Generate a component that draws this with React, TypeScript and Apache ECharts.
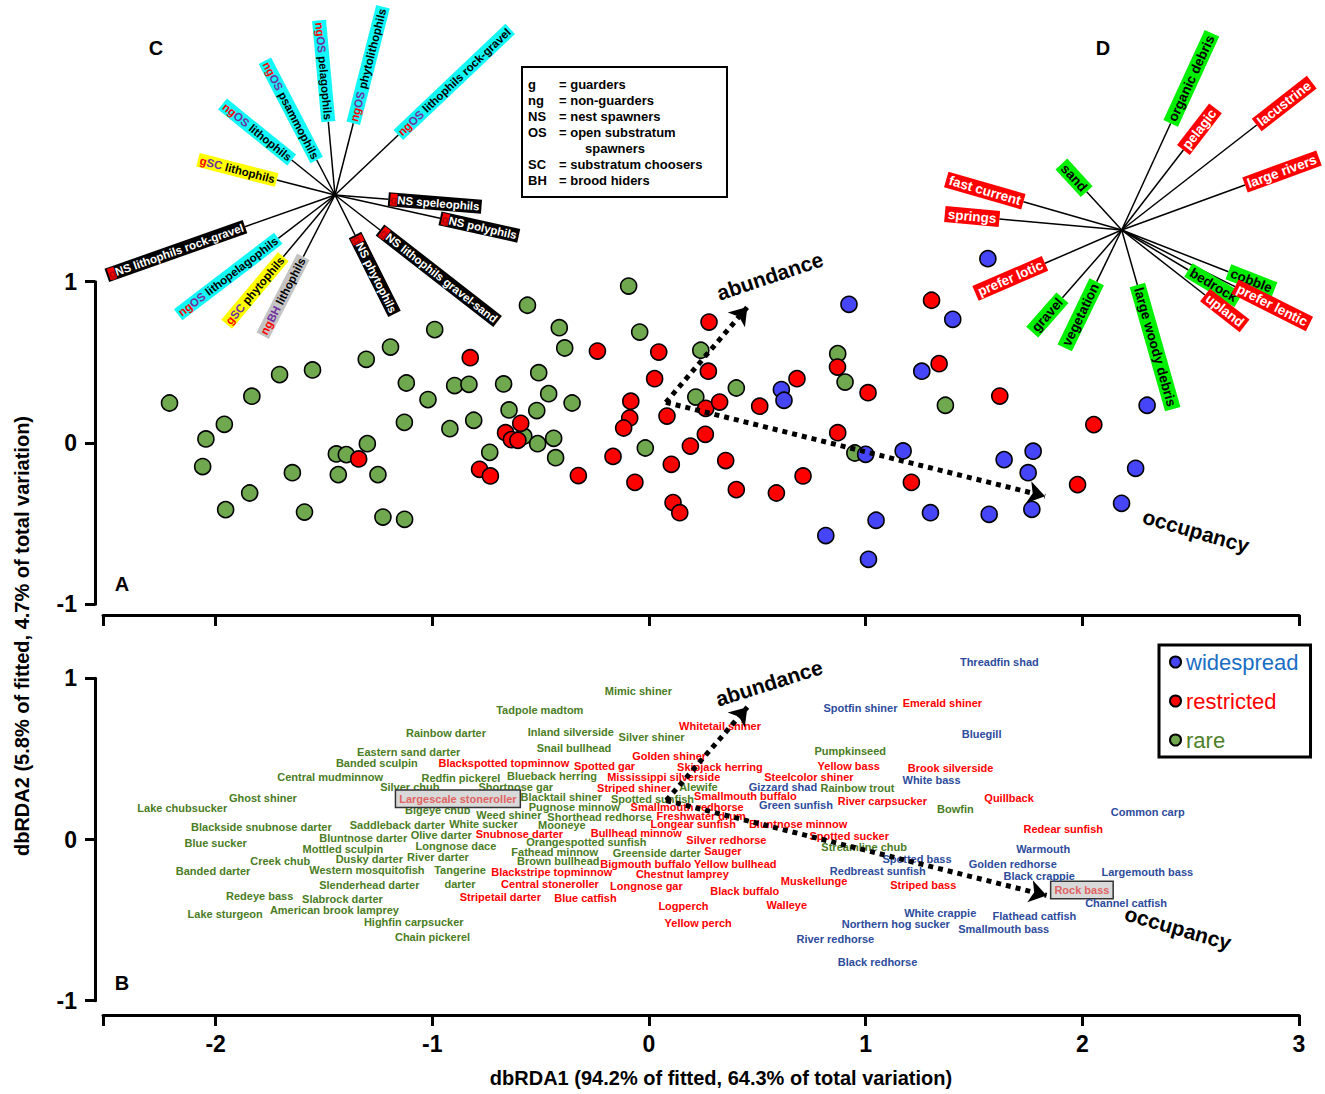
import React, { useEffect, useRef } from "react";
import * as echarts from "echarts";

const FONT = '"Liberation Sans", Arial, Helvetica, sans-serif';

// ---------- axes ----------
const xMin = -2.52;
const xMax = 3;
const xTickPositions = [-2.52, -2, -1, 0, 1, 2, 3];
const xTickLabels = [-2, -1, 0, 1, 2, 3];

// ---------- panel A: species points (dbRDA1, dbRDA2) ----------
const rarePts = [
  [-2.213, 0.248], [-0.094, 0.973], [-0.561, 0.854], [-0.989, 0.703], [-0.414, 0.715], [-0.043, 0.688],
  [-0.389, 0.589], [-1.193, 0.595], [-1.305, 0.519], [-1.553, 0.453], [-1.705, 0.424], [-1.833, 0.29],
  [-1.12, 0.372], [-0.897, 0.356], [-0.831, 0.364], [-0.671, 0.366], [-0.509, 0.436], [-1.02, 0.269],
  [-0.463, 0.306], [-0.355, 0.248], [-0.646, 0.205], [-0.518, 0.201], [-1.96, 0.116], [-2.045, 0.025],
  [-1.129, 0.128], [-0.809, 0.141], [-0.919, 0.089], [-1.3, -0.004], [-1.443, -0.068], [-1.397, -0.072],
  [-2.06, -0.146], [-1.646, -0.184], [-1.434, -0.196], [-1.251, -0.196], [-1.843, -0.31], [-1.954, -0.413],
  [-1.59, -0.428], [-1.228, -0.459], [-1.128, -0.473], [-0.578, 0.042], [-0.514, -0.004], [-0.44, 0.029],
  [-0.735, -0.058], [-0.431, -0.091], [-0.017, -0.031], [0.239, 0.575], [0.403, 0.341], [0.216, 0.285],
  [0.871, 0.554], [0.905, 0.378], [1.368, 0.234], [0.95, -0.062],
];
const restrictedPts = [
  [-0.825, 0.529], [-0.238, 0.57], [0.045, 0.564], [0.026, 0.399], [-0.084, 0.259], [-0.089, 0.155],
  [-0.117, 0.093], [-1.34, -0.099], [-0.592, 0.122], [-0.662, 0.064], [-0.635, 0.021], [-0.605, 0.017],
  [-0.782, -0.163], [-0.732, -0.204], [-0.326, -0.202], [-0.166, -0.083], [-0.065, -0.244], [0.277, 0.75],
  [0.274, 0.445], [0.083, 0.167], [0.262, 0.215], [0.326, 0.254], [0.511, 0.228], [0.683, 0.399],
  [0.87, 0.471], [1.011, 0.312], [1.304, 0.885], [1.339, 0.492], [1.619, 0.291], [2.053, 0.114],
  [0.26, 0.054], [0.191, -0.019], [0.354, -0.109], [0.103, -0.132], [0.871, 0.064], [0.711, -0.204],
  [0.403, -0.289], [0.588, -0.31], [1.211, -0.244], [1.978, -0.258], [0.111, -0.369], [0.142, -0.432],
];
const widespreadPts = [
  [0.923, 0.86], [1.402, 0.767], [1.259, 0.445], [0.611, 0.331], [0.623, 0.265], [1.0, -0.07],
  [1.173, -0.049], [1.639, -0.103], [1.773, -0.051], [1.75, -0.184], [2.246, -0.157], [2.299, 0.234],
  [2.181, -0.374], [1.767, -0.411], [1.57, -0.442], [1.299, -0.432], [1.048, -0.479], [0.816, -0.574],
  [1.013, -0.721], [1.564, 1.143],
];

// ---------- vectors ----------
const abundanceA = [[0.078, 0.252], [0.454, 0.843]];
const occupancyA = [[0.078, 0.252], [1.828, -0.33]];
const abundanceB = [[0.08, 0.242], [0.454, 0.821]];
const occupancyB = [[0.08, 0.242], [1.835, -0.347]];

// ---------- panel B: species names ----------
const rareNames: [string, number, number][] = [
  ["Mimic shiner", -0.049, 0.923], ["Tadpole madtom", -0.504, 0.803], ["Rainbow darter", -0.937, 0.659],
  ["Inland silverside", -0.361, 0.665], ["Silver shiner", 0.012, 0.638], ["Eastern sand darter", -1.109, 0.545],
  ["Snail bullhead", -0.346, 0.566], ["Banded sculpin", -1.256, 0.473], ["Central mudminnow", -1.472, 0.39],
  ["Redfin pickerel", -0.868, 0.382], ["Blueback herring", -0.448, 0.394], ["Silver chub", -1.104, 0.324],
  ["Shortnose gar", -0.615, 0.328], ["Ghost shiner", -1.782, 0.256], ["Blacktail shiner", -0.405, 0.262],
  ["Lake chubsucker", -2.154, 0.197], ["Bigeye chub", -0.975, 0.181], ["Pugnose minnow", -0.345, 0.203],
  ["Weed shiner", -0.647, 0.15], ["Shorthead redhorse", -0.228, 0.141], ["Saddleback darter", -1.161, 0.09],
  ["White sucker", -0.764, 0.096], ["Mooneye", -0.402, 0.088], ["Blackside snubnose darter", -1.789, 0.078],
  ["Bluntnose darter", -1.319, 0.011], ["Olive darter", -0.959, 0.03], ["Orangespotted sunfish", -0.289, -0.016],
  ["Blue sucker", -2.0, -0.022], ["Mottled sculpin", -1.413, -0.057], ["Longnose dace", -0.891, -0.042],
  ["Fathead minnow", -0.435, -0.078], ["Greenside darter", 0.036, -0.082], ["Creek chub", -1.702, -0.133],
  ["Dusky darter", -1.291, -0.121], ["River darter", -0.974, -0.11], ["Brown bullhead", -0.419, -0.135],
  ["Banded darter", -2.012, -0.194], ["Western mosquitofish", -1.302, -0.189], ["Tangerine\ndarter", -0.872, -0.233],
  ["Slenderhead darter", -1.291, -0.282], ["Redeye bass", -1.797, -0.349], ["Slabrock darter", -1.415, -0.367],
  ["Lake sturgeon", -1.956, -0.46], ["American brook lamprey", -1.452, -0.439], ["Highfin carpsucker", -1.086, -0.514],
  ["Chain pickerel", -0.999, -0.605], ["Alewife", 0.228, 0.328], ["Spotted sunfish", 0.016, 0.249],
  ["Pumpkinseed", 0.929, 0.551], ["Rainbow trout", 0.962, 0.321], ["Bowfin", 1.414, 0.187],
  ["Streamline chub", 0.993, -0.048],
];
const restrictedNames: [string, number, number][] = [
  ["Whitetail shiner", 0.328, 0.704], ["Emerald shiner", 1.354, 0.845], ["Golden shiner", 0.093, 0.518],
  ["Blackspotted topminnow", -0.67, 0.476], ["Spotted gar", -0.205, 0.458], ["Skipjack herring", 0.327, 0.452],
  ["Mississippi silverside", 0.068, 0.386], ["Yellow bass", 0.922, 0.458], ["Brook silverside", 1.392, 0.445],
  ["Steelcolor shiner", 0.738, 0.386], ["Striped shiner", -0.069, 0.321], ["Smallmouth buffalo", 0.445, 0.27],
  ["River carpsucker", 1.077, 0.241], ["Quillback", 1.662, 0.256], ["Largescale stoneroller", -0.882, 0.253],
  ["Smallmouth redhorse", 0.176, 0.203], ["Freshwater drum", 0.241, 0.148], ["Snubnose darter", -0.598, 0.036],
  ["Bullhead minnow", -0.059, 0.042], ["Longear sunfish", 0.204, 0.096], ["Bluntnose minnow", 0.688, 0.096],
  ["Silver redhorse", 0.357, -0.003], ["Spotted sucker", 0.924, 0.024], ["Redear sunfish", 1.912, 0.063],
  ["Sauger", 0.341, -0.071], ["Bigmouth buffalo", -0.015, -0.15], ["Yellow bullhead", 0.398, -0.154],
  ["Blackstripe topminnow", -0.449, -0.2], ["Chestnut lamprey", 0.154, -0.216], ["Central stoneroller", -0.457, -0.274],
  ["Longnose gar", -0.012, -0.288], ["Muskellunge", 0.762, -0.256], ["Striped bass", 1.266, -0.282],
  ["Black buffalo", 0.442, -0.319], ["Stripetail darter", -0.686, -0.355], ["Blue catfish", -0.293, -0.361],
  ["Logperch", 0.159, -0.413], ["Walleye", 0.636, -0.408], ["Yellow perch", 0.227, -0.52],
  ["Rock bass", 1.998, -0.313],
];
const widespreadNames: [string, number, number][] = [
  ["Threadfin shad", 1.617, 1.101], ["Spotfin shiner", 0.976, 0.816], ["Bluegill", 1.535, 0.653],
  ["White bass", 1.304, 0.367], ["Gizzard shad", 0.618, 0.328], ["Green sunfish", 0.678, 0.216],
  ["Common carp", 2.302, 0.169], ["Warmouth", 1.819, -0.061], ["Spotted bass", 1.237, -0.123],
  ["Golden redhorse", 1.679, -0.15], ["Redbreast sunfish", 1.056, -0.194], ["Black crappie", 1.801, -0.228],
  ["Largemouth bass", 2.3, -0.202], ["Channel catfish", 2.202, -0.394], ["White crappie", 1.344, -0.454],
  ["Flathead catfish", 1.779, -0.473], ["Northern hog sucker", 1.139, -0.526], ["Smallmouth bass", 1.637, -0.553],
  ["River redhorse", 0.86, -0.617], ["Black redhorse", 1.055, -0.762],
];
const boxedNames = ["Largescale stoneroller", "Rock bass"];

// ---------- inset C: reproductive traits ----------
const traitVectors: [string, string, number, number][] = [
  ["ngOS pelagophils", "cyan", -0.067, 0.733],
  ["ngOS phytolithophils", "cyan", 0.183, 0.717],
  ["ngOS lithophils rock-gravel", "cyan", 0.633, 0.6],
  ["ngOS psammophils", "cyan", -0.183, 0.35],
  ["ngOS lithophils", "cyan", -0.433, 0.35],
  ["gSC lithophils", "yellow", -0.583, 0.15],
  ["gNS speleophils", "black", 0.533, -0.043],
  ["gNS polyphils", "black", 1.05, -0.233],
  ["gNS lithophils rock-gravel", "black", -0.9, -0.317],
  ["ngOS lithopelagophils", "cyan", -0.567, -0.433],
  ["gSC phytophils", "yellow", -0.517, -0.617],
  ["ngBH lithophils", "grey", -0.317, -0.617],
  ["gNS phytophils", "black", 0.2, -0.4],
  ["gNS lithophils gravel-sand", "black", 0.45, -0.35],
];

// ---------- inset D: habitat traits ----------
const habitatVectors: [string, string, number, number][] = [
  ["organic debris", "green", 0.49, 1.067],
  ["pelagic", "red", 0.617, 0.8],
  ["lacustrine", "red", 1.35, 1.05],
  ["large rivers", "red", 1.233, 0.45],
  ["sand", "green", -0.35, 0.383],
  ["fast current", "red", -0.983, 0.283],
  ["springs", "red", -1.223, 0.11],
  ["prefer lotic", "red", -0.767, -0.333],
  ["gravel", "green", -0.593, -0.677],
  ["vegetation", "green", -0.25, -0.517],
  ["large woody debris", "green", 0.157, -0.55],
  ["bedrock", "green", 0.667, -0.4],
  ["cobble", "green", 1.067, -0.417],
  ["upland", "red", 0.833, -0.65],
  ["prefer lentic", "red", 1.133, -0.567],
];

const abbrevKeys = ["g", "ng", "NS", "OS", "", "SC", "BH"];
const abbrevDefs = ["= guarders", "= non-guarders", "= nest spawners", "= open substratum", "spawners", "= substratum choosers", "= brood hiders"];

const COL = {
  rare: "#6fa84e",
  restricted: "#ff0000",
  widespread: "#4646f8",
  rareText: "#4a7d24",
  redText: "#ff0000",
  blueText: "#2d4c9c",
};

function vecAngle(x: number, y: number) {
  let a = (Math.atan2(y, x) * 180) / Math.PI;
  let align = "left";
  if (a > 90) { a -= 180; align = "right"; }
  else if (a <= -90) { a += 180; align = "right"; }
  return { rotate: a, align };
}

const nb = (s: string) => s.replace(/ /g, "\u00a0");

function traitFormatter(s: string, kind: string) {
  if (kind === "black") return `{rb|g}{w|${nb(s.slice(1))}}`;
  if (kind === "yellow") return `{r|g}{p|SC}{k|${nb(s.slice(3))}}`;
  return `{r|${s.slice(0, 2)}}{p|${s.slice(2, 4)}}{k|${nb(s.slice(4))}}`;
}
const traitBg: Record<string, string> = { cyan: "#14f7f7", yellow: "#ffff00", grey: "#c4c4c4", black: "#000000" };

function buildOption() {
  const cfs = 11.5;
  const rs = (c: string, extra: any = {}) => ({ color: c, fontSize: cfs, fontWeight: "bold", fontFamily: FONT, ...extra });
  const traitRich = {
    r: rs("#ff0000"),
    p: rs("#7030a0"),
    k: rs("#000000"),
    w: rs("#ffffff"),
    rb: rs("#b00000", { backgroundColor: "#ff0000" }),
  };

  const axisLineStyle = { color: "#000", width: 3 };
  const mkX = (gi: number, offset: number, labels: boolean) => ({
    gridIndex: gi, type: "value", min: xMin, max: xMax, offset,
    axisLine: { show: true, onZero: false, lineStyle: axisLineStyle },
    axisTick: { show: true, length: 11, lineStyle: { color: "#000", width: 3 }, customValues: xTickPositions },
    axisLabel: labels
      ? { show: true, customValues: xTickLabels, fontSize: 23, fontWeight: "bold", color: "#000", fontFamily: FONT, margin: 17 }
      : { show: false },
    splitLine: { show: false },
  });
  const mkY = (gi: number) => ({
    gridIndex: gi, type: "value", min: -1, max: 1, interval: 1, offset: 8,
    axisLine: { show: true, onZero: false, lineStyle: axisLineStyle },
    axisTick: { show: true, length: 10, lineStyle: { color: "#000", width: 3 } },
    axisLabel: { show: true, fontSize: 23, fontWeight: "bold", color: "#000", fontFamily: FONT, margin: 18 },
    splitLine: { show: false },
  });
  const hidden = (gi: number) => ({ gridIndex: gi, type: "value", min: -1, max: 1, show: false });

  const pointSeries = (name: string, data: number[][], color: string) => ({
    name, type: "scatter", xAxisIndex: 0, yAxisIndex: 0, data, symbolSize: 16, clip: false, silent: true,
    itemStyle: { color, borderColor: "#000", borderWidth: 1.6, opacity: 1 }, z: 3,
  });

  const nameSeries = (id: string, list: [string, number, number][], color: string) => ({
    id, type: "scatter", xAxisIndex: 1, yAxisIndex: 1, symbolSize: 0, clip: false, silent: true, z: 3,
    itemStyle: { opacity: 1 },
    data: list.map(([n, x, y]) => ({
      name: n, value: [x, y],
      label: boxedNames.includes(n)
        ? { backgroundColor: "#d9d9d9", borderColor: "#333", borderWidth: 1.5, padding: [1, 3], color: "#e06262" }
        : undefined,
    })),
    label: {
      show: true, position: "inside", formatter: "{b}", color, fontSize: 11, fontWeight: "bold",
      fontFamily: FONT, lineHeight: 14, align: "center", verticalAlign: "middle", opacity: 1,
    },
  });

  const arrowSeries = (gi: number, a: number[][], o: number[][]) => ({
    type: "lines", coordinateSystem: "cartesian2d", xAxisIndex: gi, yAxisIndex: gi, silent: true, clip: false, z: 6,
    symbol: ["none", "arrow"], symbolSize: 17,
    lineStyle: { color: "#000", width: 5, type: [5, 5], opacity: 1, cap: "butt" },
    data: [{ coords: a }, { coords: o }],
  });

  const starLines = (gi: number, vecs: [string, string, number, number][]) => ({
    type: "lines", coordinateSystem: "cartesian2d", xAxisIndex: gi, yAxisIndex: gi, silent: true, clip: false, z: 2,
    symbol: ["none", "none"],
    lineStyle: { color: "#000", width: 1.5, opacity: 1, type: "solid" },
    data: vecs.map((v) => ({ coords: [[0, 0], [v[2], v[3]]] })),
  });

  const traitLabels = {
    type: "scatter", xAxisIndex: 2, yAxisIndex: 2, symbolSize: 0, clip: false, silent: true, z: 4,
    itemStyle: { opacity: 1 },
    data: traitVectors.map(([n, kind, x, y]) => {
      const { rotate, align } = vecAngle(x, y);
      return {
        name: n, value: [x, y],
        label: {
          show: true, position: "inside", rotate, align, verticalAlign: "middle", opacity: 1,
          formatter: traitFormatter(n, kind), backgroundColor: traitBg[kind], padding: [1, 2],
          rich: traitRich, fontSize: cfs, fontWeight: "bold", fontFamily: FONT,
        },
      };
    }),
  };

  const habitatLabels = {
    type: "scatter", xAxisIndex: 3, yAxisIndex: 3, symbolSize: 0, clip: false, silent: true, z: 4,
    itemStyle: { opacity: 1 },
    data: habitatVectors.map(([n, kind, x, y]) => {
      const { rotate, align } = vecAngle(x, y);
      return {
        name: n, value: [x, y],
        label: {
          show: true, position: "inside", rotate, align, verticalAlign: "middle", formatter: nb(n), opacity: 1,
          backgroundColor: kind === "red" ? "#ff0000" : "#00f000",
          color: kind === "red" ? "#ffffff" : "#000000",
          padding: [1, 3], fontSize: 13.5, fontWeight: "bold", fontFamily: FONT,
        },
      };
    }),
  };

  const txt = (text: string, x: number, y: number, size: number, extra: any = {}, rot = 0) => ({
    type: "text", x, y, rotation: rot, silent: true, z: 10,
    style: { text, fill: "#000", font: `bold ${size}px ${FONT}`, align: "center", verticalAlign: "middle", ...extra },
  });
  const deg = Math.PI / 180;

  const graphic: any[] = [
    txt("C", 156, 48, 20), txt("D", 1103, 48, 20), txt("A", 122, 584, 20), txt("B", 122, 983, 20),
    txt("abundance", 770, 276, 21, {}, 18.5 * deg),
    txt("occupancy", 1196, 531, 21, {}, -16 * deg),
    txt("abundance", 769, 683, 21, {}, 17.5 * deg),
    txt("occupancy", 1178, 928, 21, {}, -16 * deg),
    txt("dbRDA1 (94.2% of fitted, 64.3% of total variation)", 721, 1078, 20),
    txt("dbRDA2 (5.8% of fitted, 4.7% of total variation)", 22, 636, 20, {}, 90 * deg),
    { type: "rect", shape: { x: 522, y: 67, width: 205, height: 130 }, style: { fill: "#fff", stroke: "#000", lineWidth: 2 }, z: 9, silent: true },
  ];
  abbrevKeys.forEach((k, i) => {
    const y = 84 + 16 * i;
    if (k) graphic.push(txt(k, 528, y, 13, { align: "left" }));
    graphic.push(txt(abbrevDefs[i], k ? 559 : 585, y, 13, { align: "left" }));
  });

  return {
    animation: false,
    backgroundColor: "#ffffff",
    textStyle: { fontFamily: FONT },
    grid: [
      { left: 103, width: 1196, top: 281.7, height: 322.6, outerBoundsMode: "none", containLabel: false },
      { left: 103, width: 1196, top: 678.3, height: 322.4, outerBoundsMode: "none", containLabel: false },
      { left: 235, width: 200, top: 95, height: 200, outerBoundsMode: "none", show: false },
      { left: 1021.7, width: 200, top: 130, height: 200, outerBoundsMode: "none", show: false },
    ],
    xAxis: [mkX(0, 10.7, false), mkX(1, 14.3, true), hidden(2), hidden(3)],
    yAxis: [mkY(0), mkY(1), hidden(2), hidden(3)],
    legend: {
      orient: "vertical", left: 1159, top: 645, itemWidth: 11, itemHeight: 11, itemGap: 17,
      padding: [6, 12, 6, 10], borderColor: "#000", borderWidth: 3, backgroundColor: "#fff",
      selectedMode: false, textStyle: { fontSize: 22, fontFamily: FONT },
      data: [
        { name: "widespread", textStyle: { color: "#1a6ec4" } },
        { name: "restricted", textStyle: { color: "#ff0000" } },
        { name: "rare", textStyle: { color: "#4e8028" } },
      ],
    },
    series: [
      starLines(2, traitVectors),
      starLines(3, habitatVectors),
      pointSeries("rare", rarePts, COL.rare),
      pointSeries("restricted", restrictedPts, COL.restricted),
      pointSeries("widespread", widespreadPts, COL.widespread),
      traitLabels,
      habitatLabels,
      nameSeries("rareNames", rareNames, COL.rareText),
      nameSeries("restrictedNames", restrictedNames, COL.redText),
      nameSeries("widespreadNames", widespreadNames, COL.blueText),
      arrowSeries(0, abundanceA, occupancyA),
      arrowSeries(1, abundanceB, occupancyB),
    ],
    graphic,
  };
}

export default function App() {
  const ref = useRef<HTMLDivElement>(null);
  useEffect(() => {
    if (!ref.current) return;
    const chart = echarts.init(ref.current, null, { renderer: "svg" });
    chart.setOption(buildOption() as any);
    return () => chart.dispose();
  }, []);
  return (
    <div
      ref={ref}
      style={{ position: "fixed", left: 0, top: 0, width: 1325, height: 1094, background: "#fff" }}
    />
  );
}
